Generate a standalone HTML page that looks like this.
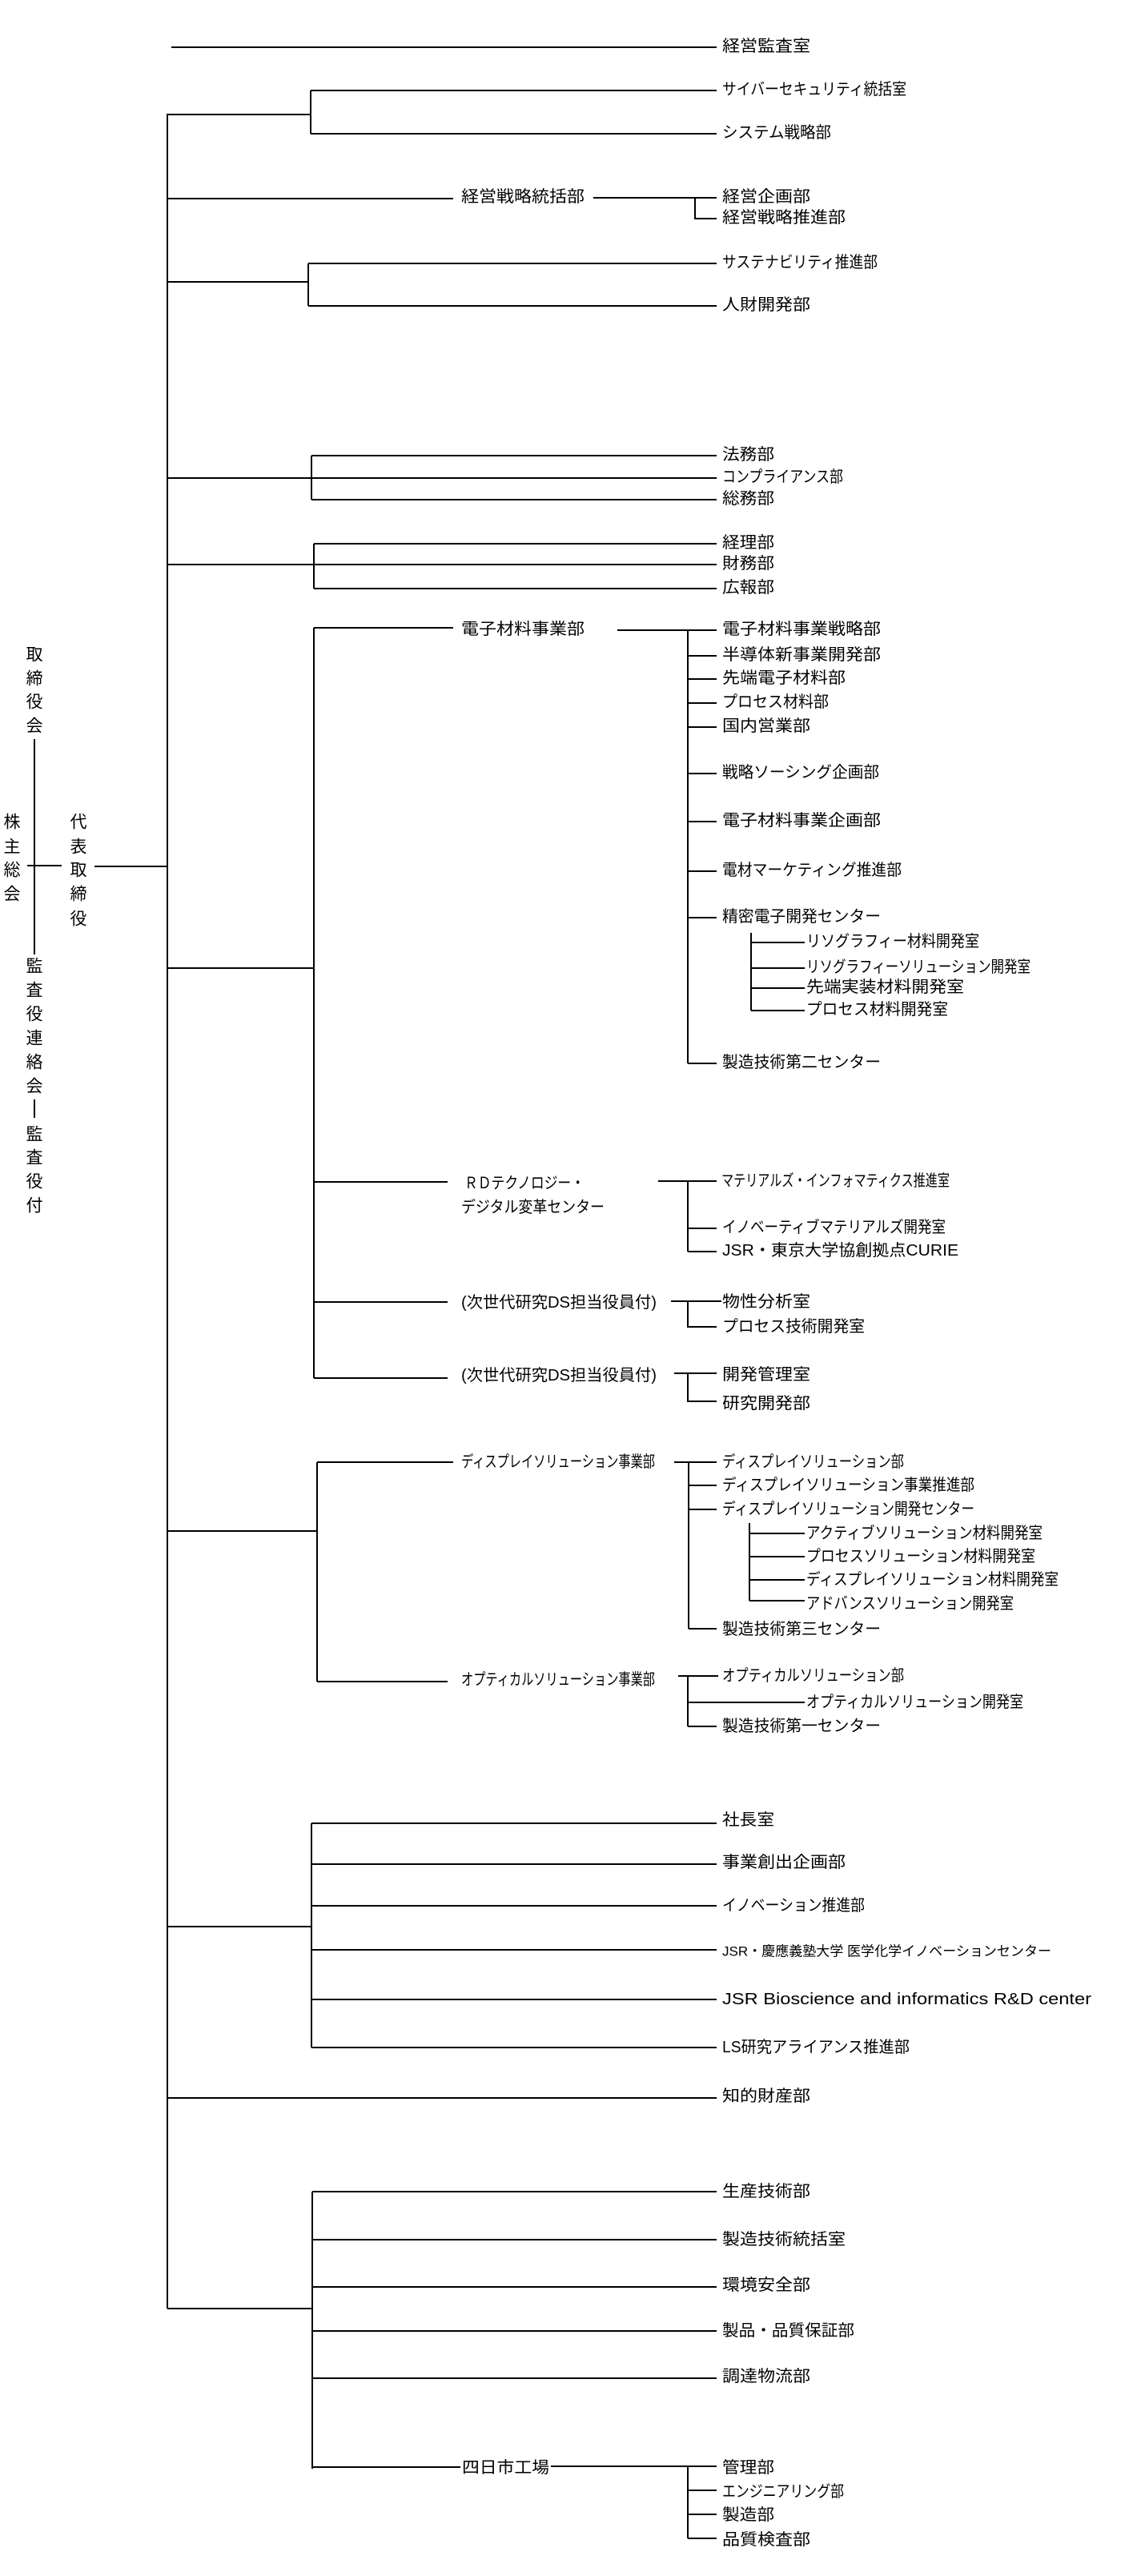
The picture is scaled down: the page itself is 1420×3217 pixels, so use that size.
<!DOCTYPE html>
<html><head><meta charset="utf-8"><style>
html,body{margin:0;padding:0;background:#fff;}
svg{display:block;}
text{font-family:"Liberation Sans","Noto Sans CJK JP",sans-serif;font-size:20px;fill:#000;dominant-baseline:central;}
.v{font-size:21px;text-anchor:middle;}
path{stroke:#000;stroke-width:2;fill:none;}
</style></head><body>
<svg width="1420" height="3217" viewBox="0 0 1420 3217" xmlns="http://www.w3.org/2000/svg">
<path d="M214 59H895
M209 142V2883
M209 143H388M388 113V167M388 113H895M388 167H895
M209 248H566M741 247H895M868 247V273H895
M209 352H385M385 329V382M385 329H895M385 382H895
M389 569V624M389 569H895M209 597H895M389 624H895
M392 679V735M392 679H895M209 705H895M392 735H895
M209 1209H392M392 784V1721M392 784H566M771 787H895M859 787V1328
M859 819H895M859 848H895M859 878H895M859 908H895M859 966H895M859 1026H895M859 1088H895M859 1146H895M859 1328H895
M938 1165V1262M938 1177H1005M938 1209H1005M938 1234H1005M938 1262H1005
M392 1476H559M822 1475H895M859 1475V1563M859 1534H895M859 1563H895
M392 1626H559M838 1625H901M859 1625V1657H895
M392 1721H559M842 1715H895M859 1715V1750H895
M209 1912H396M396 1826V2100M396 1826H566M842 1826H895M860 1826V2034M860 1855H895M860 1885H895M860 2034H895
M936 1902V1999M936 1915H1005M936 1944H1005M936 1973H1005M936 1999H1005
M396 2100H559M847 2093H897M859 2093V2156M859 2126H1005M859 2156H895
M209 2406H389M389 2277V2557M389 2277H895M389 2328H895M389 2380H895M389 2435H895M389 2497H895M389 2557H895
M209 2620H895
M209 2883H390M390 2737V3083M390 2737H895M390 2797H895M390 2856H895M390 2911H895M390 2970H895M390 3081H575
M688 3080H895M859 3080V3170M859 3110H895M859 3140H895M859 3170H895
M43 923V1192M34 1081H77M118 1082H209M43 1373V1396"/>
<g>
<text class="v" x="43" y="818">取</text><text class="v" x="43" y="848">締</text><text class="v" x="43" y="877">役</text><text class="v" x="43" y="907">会</text>
<text class="v" x="15" y="1027">株</text><text class="v" x="15" y="1058">主</text><text class="v" x="15" y="1087">総</text><text class="v" x="15" y="1117">会</text>
<text class="v" x="98" y="1027">代</text><text class="v" x="98" y="1058">表</text><text class="v" x="98" y="1087">取</text><text class="v" x="98" y="1117">締</text><text class="v" x="98" y="1148">役</text>
<text class="v" x="43" y="1207">監</text><text class="v" x="43" y="1237">査</text><text class="v" x="43" y="1267">役</text><text class="v" x="43" y="1297">連</text><text class="v" x="43" y="1327">絡</text><text class="v" x="43" y="1357">会</text>
<text class="v" x="43" y="1417">監</text><text class="v" x="43" y="1446">査</text><text class="v" x="43" y="1476">役</text><text class="v" x="43" y="1506">付</text>
</g>
<g lengthAdjust="spacingAndGlyphs">
<text x="902" y="58" textLength="110" lengthAdjust="spacingAndGlyphs">経営監査室</text>
<text x="902" y="112" textLength="230" lengthAdjust="spacingAndGlyphs">サイバーセキュリティ統括室</text>
<text x="902" y="166" textLength="136" lengthAdjust="spacingAndGlyphs">システム戦略部</text>
<text x="576" y="246" textLength="154" lengthAdjust="spacingAndGlyphs">経営戦略統括部</text>
<text x="902" y="246" textLength="110" lengthAdjust="spacingAndGlyphs">経営企画部</text>
<text x="902" y="272" textLength="154" lengthAdjust="spacingAndGlyphs">経営戦略推進部</text>
<text x="902" y="328" textLength="194" lengthAdjust="spacingAndGlyphs">サステナビリティ推進部</text>
<text x="902" y="381" textLength="110" lengthAdjust="spacingAndGlyphs">人財開発部</text>
<text x="902" y="568" textLength="65" lengthAdjust="spacingAndGlyphs">法務部</text>
<text x="902" y="596" textLength="151" lengthAdjust="spacingAndGlyphs">コンプライアンス部</text>
<text x="902" y="623" textLength="65" lengthAdjust="spacingAndGlyphs">総務部</text>
<text x="902" y="678" textLength="65" lengthAdjust="spacingAndGlyphs">経理部</text>
<text x="902" y="704" textLength="65" lengthAdjust="spacingAndGlyphs">財務部</text>
<text x="902" y="734" textLength="65" lengthAdjust="spacingAndGlyphs">広報部</text>
<text x="576" y="786" textLength="154" lengthAdjust="spacingAndGlyphs">電子材料事業部</text>
<text x="902" y="786" textLength="198" lengthAdjust="spacingAndGlyphs">電子材料事業戦略部</text>
<text x="902" y="818" textLength="198" lengthAdjust="spacingAndGlyphs">半導体新事業開発部</text>
<text x="902" y="847" textLength="154" lengthAdjust="spacingAndGlyphs">先端電子材料部</text>
<text x="902" y="877" textLength="133" lengthAdjust="spacingAndGlyphs">プロセス材料部</text>
<text x="902" y="907" textLength="110" lengthAdjust="spacingAndGlyphs">国内営業部</text>
<text x="902" y="965" textLength="196" lengthAdjust="spacingAndGlyphs">戦略ソーシング企画部</text>
<text x="902" y="1025" textLength="198" lengthAdjust="spacingAndGlyphs">電子材料事業企画部</text>
<text x="902" y="1087" textLength="224" lengthAdjust="spacingAndGlyphs">電材マーケティング推進部</text>
<text x="902" y="1145" textLength="198" lengthAdjust="spacingAndGlyphs">精密電子開発センター</text>
<text x="1007" y="1176" textLength="216" lengthAdjust="spacingAndGlyphs">リソグラフィー材料開発室</text>
<text x="1007" y="1208" textLength="280" lengthAdjust="spacingAndGlyphs">リソグラフィーソリューション開発室</text>
<text x="1007" y="1233" textLength="197" lengthAdjust="spacingAndGlyphs">先端実装材料開発室</text>
<text x="1007" y="1261" textLength="177" lengthAdjust="spacingAndGlyphs">プロセス材料開発室</text>
<text x="902" y="1327" textLength="198" lengthAdjust="spacingAndGlyphs">製造技術第二センター</text>
<text x="580" y="1478" textLength="150" lengthAdjust="spacingAndGlyphs">ＲＤテクノロジー・</text>
<text x="576" y="1508" textLength="179" lengthAdjust="spacingAndGlyphs">デジタル変革センター</text>
<text x="901" y="1475" textLength="285" lengthAdjust="spacingAndGlyphs">マテリアルズ・インフォマティクス推進室</text>
<text x="902" y="1533" textLength="279" lengthAdjust="spacingAndGlyphs">イノベーティブマテリアルズ開発室</text>
<text x="902" y="1562" textLength="295" lengthAdjust="spacingAndGlyphs">JSR・東京大学協創拠点CURIE</text>
<text x="576" y="1627" textLength="244" lengthAdjust="spacingAndGlyphs">(次世代研究DS担当役員付)</text>
<text x="902" y="1626" textLength="110" lengthAdjust="spacingAndGlyphs">物性分析室</text>
<text x="902" y="1657" textLength="178" lengthAdjust="spacingAndGlyphs">プロセス技術開発室</text>
<text x="576" y="1718" textLength="244" lengthAdjust="spacingAndGlyphs">(次世代研究DS担当役員付)</text>
<text x="902" y="1717" textLength="110" lengthAdjust="spacingAndGlyphs">開発管理室</text>
<text x="902" y="1753" textLength="110" lengthAdjust="spacingAndGlyphs">研究開発部</text>
<text x="576" y="1826" textLength="242" lengthAdjust="spacingAndGlyphs">ディスプレイソリューション事業部</text>
<text x="902" y="1826" textLength="227" lengthAdjust="spacingAndGlyphs">ディスプレイソリューション部</text>
<text x="902" y="1855" textLength="315" lengthAdjust="spacingAndGlyphs">ディスプレイソリューション事業推進部</text>
<text x="902" y="1885" textLength="315" lengthAdjust="spacingAndGlyphs">ディスプレイソリューション開発センター</text>
<text x="1007" y="1915" textLength="295" lengthAdjust="spacingAndGlyphs">アクティブソリューション材料開発室</text>
<text x="1007" y="1944" textLength="286" lengthAdjust="spacingAndGlyphs">プロセスソリューション材料開発室</text>
<text x="1007" y="1973" textLength="315" lengthAdjust="spacingAndGlyphs">ディスプレイソリューション材料開発室</text>
<text x="1007" y="2003" textLength="259" lengthAdjust="spacingAndGlyphs">アドバンスソリューション開発室</text>
<text x="902" y="2035" textLength="198" lengthAdjust="spacingAndGlyphs">製造技術第三センター</text>
<text x="576" y="2098" textLength="242" lengthAdjust="spacingAndGlyphs">オプティカルソリューション事業部</text>
<text x="902" y="2093" textLength="227" lengthAdjust="spacingAndGlyphs">オプティカルソリューション部</text>
<text x="1007" y="2126" textLength="271" lengthAdjust="spacingAndGlyphs">オプティカルソリューション開発室</text>
<text x="902" y="2156" textLength="198" lengthAdjust="spacingAndGlyphs">製造技術第一センター</text>
<text x="902" y="2273" textLength="65" lengthAdjust="spacingAndGlyphs">社長室</text>
<text x="902" y="2326" textLength="154" lengthAdjust="spacingAndGlyphs">事業創出企画部</text>
<text x="902" y="2380" textLength="178" lengthAdjust="spacingAndGlyphs">イノベーション推進部</text>
<text x="902" y="2437" textLength="411" lengthAdjust="spacingAndGlyphs" style="font-size:17px">JSR・慶應義塾大学 医学化学イノベーションセンター</text>
<text x="902" y="2497" textLength="461" lengthAdjust="spacingAndGlyphs">JSR Bioscience and informatics R&amp;D center</text>
<text x="902" y="2557" textLength="234" lengthAdjust="spacingAndGlyphs">LS研究アライアンス推進部</text>
<text x="902" y="2618" textLength="110" lengthAdjust="spacingAndGlyphs">知的財産部</text>
<text x="902" y="2737" textLength="110" lengthAdjust="spacingAndGlyphs">生産技術部</text>
<text x="902" y="2797" textLength="154" lengthAdjust="spacingAndGlyphs">製造技術統括室</text>
<text x="902" y="2854" textLength="110" lengthAdjust="spacingAndGlyphs">環境安全部</text>
<text x="902" y="2911" textLength="165" lengthAdjust="spacingAndGlyphs">製品・品質保証部</text>
<text x="902" y="2968" textLength="110" lengthAdjust="spacingAndGlyphs">調達物流部</text>
<text x="577" y="3082" textLength="109" lengthAdjust="spacingAndGlyphs">四日市工場</text>
<text x="902" y="3082" textLength="65" lengthAdjust="spacingAndGlyphs">管理部</text>
<text x="902" y="3112" textLength="152" lengthAdjust="spacingAndGlyphs">エンジニアリング部</text>
<text x="902" y="3141" textLength="65" lengthAdjust="spacingAndGlyphs">製造部</text>
<text x="902" y="3172" textLength="110" lengthAdjust="spacingAndGlyphs">品質検査部</text>
</g>
</svg>
</body></html>
